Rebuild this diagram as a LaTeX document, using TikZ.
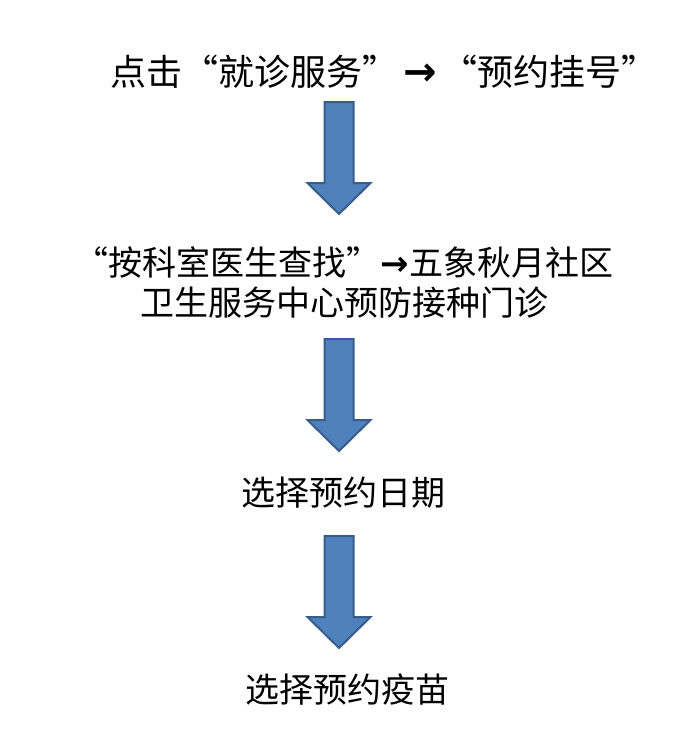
\documentclass[tikz,border=0pt]{standalone}
\usepackage{fontspec}
\setmainfont{Noto Sans CJK SC}
\newfontfamily\arrowfont{DejaVu Sans}
\usetikzlibrary{backgrounds, positioning}

\definecolor{arrowblue}{HTML}{4F81BD}
\definecolor{arrowedge}{HTML}{385D8A}

% bold right arrow inside the text lines
\newcommand{\goto}{{\arrowfont\bfseries →}}

\begin{document}
\begin{tikzpicture}[
            background rectangle/.style={fill=white},
            show background rectangle,
            inner frame sep=0pt,
            x=1pt, y=-1pt
        ]

        \tikzstyle{steptext}=[
            draw=none,
            inner sep=0pt,
            align=center,
            font=\fontsize{34}{40}\selectfont
        ]
        \tikzstyle{arrowbody}=[
            fill=arrowblue,
            draw=arrowedge,
            line width=2pt,
            line join=miter
        ]
        \tikzset{downarrow/.pic={
            \draw[arrowbody] (-14.5,0) -- (14.5,0) -- (14.5,81) -- (31.5,81)
                -- (0,112) -- (-31.5,81) -- (-14.5,81) -- cycle;
        }}

        \useasboundingbox (0,0) rectangle (682,752);

        \node[steptext, font=\fontsize{36}{40}\selectfont] (click) at (384,72) {点击“就诊服务”\hspace{5pt}{\fontsize{40}{40}\selectfont\goto}\hspace{5pt}“预约挂号”};
        \node[steptext] (search) at (344,282) {“按科室医生查找”\goto{}五象秋月社区\\卫生服务中心预防接种门诊};
        \node[steptext] (date) at (343,493) {选择预约日期};
        \node[steptext] (vaccine) at (347,690) {选择预约疫苗};

        \coordinate (a1) at (339,102);
        \coordinate (a2) at (339,339);
        \coordinate (a3) at (339,536);

        \pic at (a1) {downarrow};
        \pic at (a2) {downarrow};
        \pic at (a3) {downarrow};
    \end{tikzpicture}
\end{document}
